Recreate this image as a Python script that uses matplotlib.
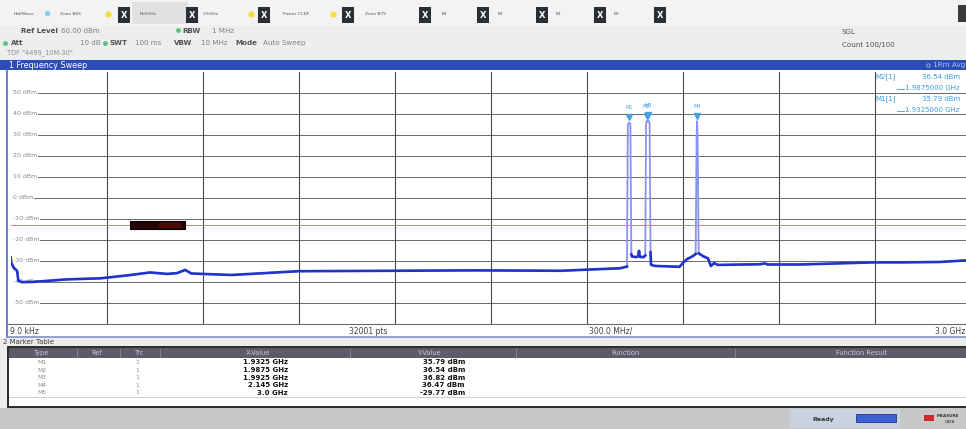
import numpy as np
import matplotlib.pyplot as plt
from matplotlib.patches import Rectangle

plt.rcParams['font.family'] = ['DejaVu Sans']

# spectrum trace (GHz, dBm)
freq_ghz = [0.000, 0.002, 0.010, 0.020, 0.024, 0.035, 0.070, 0.175, 0.280, 0.370,
            0.435, 0.490, 0.520, 0.545, 0.565, 0.690, 0.900, 1.200, 1.450, 1.720,
            1.810, 1.905, 1.920, 1.926, 1.9285, 1.9325, 1.9365, 1.9395, 1.9415, 1.955,
            1.961, 1.9635, 1.966, 1.978, 1.983, 1.9855, 1.9875, 1.990, 1.9925, 1.9965,
            1.9995, 2.001, 2.014, 2.090, 2.100, 2.113, 2.132, 2.1405, 2.1435, 2.145,
            2.1465, 2.150, 2.163, 2.179, 2.188, 2.198, 2.210, 2.340, 2.358, 2.365,
            2.470, 2.695, 2.780, 2.905, 2.980, 3.000]
level_dbm = [-28.5, -31.0, -33.5, -34.8, -39.6, -40.2, -40.1, -38.9, -38.4, -36.9,
             -35.6, -36.3, -35.9, -34.4, -36.1, -36.8, -35.0, -34.8, -34.6, -34.8,
             -34.2, -33.6, -33.0, -32.8, 34.8, 35.79, 35.2, -27.0, -28.0, -28.3,
             -27.8, -25.3, -28.2, -28.3, -27.5, 35.0, 36.54, 36.2, 36.82, 35.6,
             -26.0, -32.0, -32.5, -32.9, -31.2, -29.3, -27.8, -26.8, 30.0, 36.47,
             30.0, -26.5, -27.8, -28.9, -32.5, -31.2, -32.0, -31.7, -31.3, -31.8,
             -31.8, -30.8, -30.8, -30.6, -29.9, -29.77]

marker_names = ["M1", "M2", "M3", "M4", "M5"]
marker_freq_ghz = [1.9325, 1.9875, 1.9925, 2.145, 3.0]
marker_freq_text = ["1.9325 GHz", "1.9875 GHz", "1.9925 GHz", "2.145 GHz", "3.0 GHz"]
marker_level_dbm = [35.79, 36.54, 36.82, 36.47, -29.77]

display_line_dbm = -13
redact_box_ghz = [0.373, 0.545]
grid_dbm = [50, 40, 30, 20, 10, 0, -10, -20, -30, -40, -50]
grid_ghz = [0.3, 0.6, 0.9, 1.2, 1.5, 1.8, 2.1, 2.4, 2.7]

tab_labels = ["HalfWave", "Zone B66", "NrXGHz", "3.5GHz", "Power CCDF", "Zone B75", "B1", "B2", "B1", "B2"]
tab_label_x = [24, 70, 148, 211, 296, 376, 444, 501, 559, 617]
close_btn_x = [124, 192, 264, 348, 425, 483, 542, 600, 660]

table_cols = ["Type", "Ref", "Trc", "X-Value", "Y-Value", "Function", "Function Result"]
table_col_x = [42, 97, 140, 258, 430, 626, 861]

W, H = 966, 429
fig = plt.figure(figsize=(W / 100, H / 100), dpi=100)
bg = fig.add_axes([0, 0, 1, 1])
bg.set_xlim(0, W)
bg.set_ylim(H, 0)
bg.axis('off')


def box(x, y, w, h, fc, ec='none', lw=0, z=1):
    bg.add_patch(Rectangle((x, y), w, h, facecolor=fc, edgecolor=ec, linewidth=lw, zorder=z))


def txt(x, y, s, size=5.5, color='#333333', ha='left', weight='normal', z=5):
    bg.text(x, y, s, fontsize=size, color=color, ha=ha, va='center', fontweight=weight, zorder=z)


# header / toolbar
box(0, 0, W, 60, '#eeeeee')
box(0, 0, W, 26, '#f3f3f3')
box(132, 2, 56, 22, '#e2e2e2')
for lx, lab in zip(tab_label_x, tab_labels):
    txt(lx, 14, lab, size=3.2, color='#555555', ha='center')
for bx in close_btn_x:
    box(bx - 6, 7, 12, 16, '#2b2f33', z=3)
    txt(bx, 15, "X", size=6, color='white', ha='center', weight='bold')
for dx in [108, 251, 333]:
    bg.plot(dx, 14, 'o', ms=3.5, color='#f0e040', zorder=4)
bg.plot(47, 13, 'o', ms=3, color='#8ad0f0', zorder=4)
box(958, 5, 10, 17, '#3a3a3a', z=3)

hs = 5.1
txt(21, 31, "Ref Level", size=hs, color='#505050', weight='bold')
txt(61, 31, "60.00 dBm", size=hs, color='#808080')
bg.plot(178, 30, 'o', ms=2.5, color='#60c080')
txt(182, 31, "RBW", size=hs, color='#505050', weight='bold')
txt(212, 31, "1 MHz", size=hs, color='#808080')
bg.plot(5, 43, 'o', ms=2.5, color='#60c080')
txt(11, 43, "Att", size=hs, color='#505050', weight='bold')
txt(80, 43, "10 dB", size=hs, color='#808080')
bg.plot(105, 43, 'o', ms=2.5, color='#60c080')
txt(109, 43, "SWT", size=hs, color='#505050', weight='bold')
txt(135, 43, "100 ms", size=hs, color='#808080')
txt(174, 43, "VBW", size=hs, color='#505050', weight='bold')
txt(201, 43, "10 MHz", size=hs, color='#808080')
txt(235, 43, "Mode", size=hs, color='#505050', weight='bold')
txt(263, 43, "Auto Sweep", size=hs, color='#808080')
txt(7, 53, 'TDF "4499_10M-30"', size=4.8, color='#909090')
txt(842, 32, "SGL", size=hs, color='#505050')
txt(842, 45, "Count 100/100", size=hs, color='#505050')

# window title bar
box(0, 60, W, 10, '#2d4db6')
txt(9, 65, "1 Frequency Sweep", size=5.8, color='white')
bg.plot(928, 65, 'o', ms=2.5, mfc='none', mec='#a0b8f0', mew=0.6)
txt(933, 65, "1Rm Avg", size=5.2, color='#a8c0f0')

# plot frame + label row
box(0, 70, W, 268, 'white')
bg.plot([7, 7], [70, 337], color='#5068c0', lw=1.2, zorder=6)
bg.plot([7, W], [324, 324], color='#6a6a6a', lw=0.8, zorder=6)
bg.plot([7, W], [337, 337], color='#8090c0', lw=1.2, zorder=6)
txt(10, 331, "9.0 kHz", size=5.5, color='#404040')
txt(368, 331, "32001 pts", size=5.5, color='#404040', ha='center')
txt(611, 331, "300.0 MHz/", size=5.5, color='#404040', ha='center')
txt(965, 331, "3.0 GHz", size=5.5, color='#404040', ha='right')

# marker table
box(0, 338, W, 70, '#ececec')
txt(3, 342.5, "2 Marker Table", size=5, color='#404040')
box(8, 347, 970, 60, 'white', ec='#2a2a2a', lw=1.4, z=2)
box(9, 348, 968, 10, '#5c5c68', z=3)
for sx in [77, 120, 160, 350, 516, 735]:
    bg.plot([sx, sx], [349, 357], color='#8a8a96', lw=0.6, zorder=4)
for cx, cn in zip(table_col_x, table_cols):
    txt(cx, 353, cn, size=4.8, color='#c8c8d2', ha='center')
bg.plot([9, W], [397, 397], color='#c8c8c8', lw=0.6, zorder=4)
row_y = [362.4, 370.0, 377.6, 385.2, 392.8]
for i, ry in enumerate(row_y):
    txt(42, ry, marker_names[i], size=4.4, color='#909090', ha='center')
    txt(137, ry, "1", size=4.4, color='#909090', ha='center')
    txt(288, ry, marker_freq_text[i], size=5.0, color='#111111', ha='right', weight='bold')
    txt(465, ry, "{:.2f} dBm".format(marker_level_dbm[i]), size=5.0, color='#111111',
        ha='right', weight='bold')

# status bar
box(0, 408, W, 21, '#c8c8c8')
box(790, 409, 110, 19, '#c9d3e0')
txt(812, 419, "Ready", size=4.5, color='#333333', weight='bold')
box(856, 414, 40, 8, '#3c62d4', ec='#20308a', lw=0.6, z=3)
box(924, 415, 10, 6, '#d02828', z=3)
txt(937, 416, "MEASURE", size=3, color='#333333', weight='bold')
txt(945, 422, "DATA", size=3, color='#333333')

# spectrum plot
left_px, top_px, bot_px = 10.7, 71.7, 323.7
ax = fig.add_axes([left_px / W, 1 - bot_px / H, (W - left_px) / W, (bot_px - top_px) / H])
ax.set_xlim(0, (W - left_px) / 320.0)
ax.set_ylim(-60, 60)
ax.set_facecolor('none')
ax.set_xticks([])
ax.set_yticks([])
for sp in ax.spines.values():
    sp.set_visible(False)

for g in grid_dbm:
    ax.axhline(g, color='#6a6a6a', lw=0.7, zorder=1)
    ax.text(0.0, g, " {} dBm".format(g), transform=ax.get_yaxis_transform(), fontsize=4.5,
            color='#8a8a8a', va='center', ha='left', zorder=2,
            bbox=dict(facecolor='white', edgecolor='none', pad=0.5))
for g in grid_ghz:
    ax.axvline(g, color='#4a4a4a', lw=0.8, zorder=1)

ax.axhline(display_line_dbm, color='#e87880', lw=0.7, zorder=2)
ax.add_patch(Rectangle((redact_box_ghz[0], -14.7), redact_box_ghz[1] - redact_box_ghz[0], 3.4,
                       facecolor='#240404', edgecolor='#000000', lw=0.8, zorder=3))
ax.add_patch(Rectangle((redact_box_ghz[0] + 0.09, -14.3), 0.07, 2.6,
                       facecolor='#4e0808', edgecolor='none', zorder=3))

f = np.array(freq_ghz)
lv = np.array(level_dbm)
ax.plot(f, lv, color='#8a94f0', lw=1.3, zorder=4)
floor = np.where(lv > -20, np.nan, lv)
ax.plot(f, floor, color='#2233cc', lw=1.9, zorder=5)

mk_col = '#45a2e4'
for i in range(5):
    ax.plot(marker_freq_ghz[i], marker_level_dbm[i] + 2.5, 'v', ms=4.5, color=mk_col,
            zorder=6, clip_on=False)
    if i < 4:
        ax.text(marker_freq_ghz[i], marker_level_dbm[i] + 7, marker_names[i], fontsize=3.6,
                color=mk_col, ha='center', va='center', zorder=6)

# marker readout, top right
info_col = '#3c9be0'
txt(875, 77, "M2[1]", size=5, color=info_col, z=8)
txt(922, 77, "36.54 dBm", size=5, color=info_col, z=8)
bg.plot([897, 904], [89, 89], color=info_col, lw=0.6, zorder=8)
txt(905, 88, "1.9875000 GHz", size=5, color=info_col, z=8)
txt(875, 99, "M1[1]", size=5, color=info_col, z=8)
txt(922, 99, "35.79 dBm", size=5, color=info_col, z=8)
bg.plot([897, 904], [111, 111], color=info_col, lw=0.6, zorder=8)
txt(905, 110, "1.9325000 GHz", size=5, color=info_col, z=8)

fig.savefig("out.png", dpi=100)
